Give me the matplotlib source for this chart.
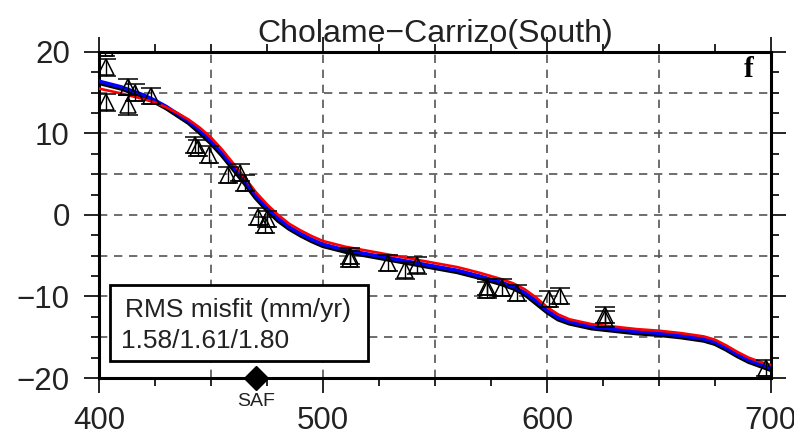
import numpy as np
import matplotlib
matplotlib.use('Agg')
import matplotlib.pyplot as plt
from matplotlib.ticker import MultipleLocator
from matplotlib.patches import Rectangle

plt.rcParams['font.family'] = ['Liberation Sans', 'DejaVu Sans']

# model profiles (distance km, velocity mm/yr)
x_model = [400, 410, 420, 425, 430, 435, 440, 445, 450, 455, 460, 465, 470, 475, 480, 485,
           490, 495, 500, 510, 520, 540, 560, 570, 580, 585, 590, 595, 600, 605, 610, 620,
           630, 640, 650, 660, 670, 675, 680, 685, 690, 695, 700]
v_blue = [16.4, 15.7, 14.7, 14.05, 13.3, 12.4, 11.5, 10.4, 9.1, 7.6, 5.9, 4.2, 2.4, 0.9, -0.4, -1.5,
          -2.3, -3.0, -3.6, -4.3, -4.8, -5.8, -6.8, -7.5, -8.3, -8.8, -9.5, -10.5, -11.7, -12.6, -13.1, -13.7,
          -14.0, -14.3, -14.5, -14.8, -15.2, -15.6, -16.3, -17.1, -17.8, -18.3, -18.8]
v_red = [15.5, 14.9, 14.2, 13.8, 13.2, 12.5, 11.7, 10.7, 9.5, 8.0, 6.3, 4.6, 2.8, 1.3, 0.0, -1.1,
         -1.9, -2.6, -3.2, -3.9, -4.4, -5.4, -6.4, -7.1, -7.9, -8.4, -9.1, -10.1, -11.3, -12.2, -12.8, -13.4,
         -13.7, -14.0, -14.2, -14.5, -14.9, -15.3, -16.0, -16.8, -17.5, -18.0, -18.4]
v_black = [16.2, 15.5, 14.5, 13.85, 13.1, 12.2, 11.3, 10.1, 8.8, 7.3, 5.6, 3.9, 2.1, 0.6, -0.7, -1.7,
           -2.5, -3.2, -3.8, -4.5, -5.0, -6.0, -7.0, -7.7, -8.5, -9.0, -9.7, -10.8, -11.9, -12.8, -13.3, -13.9,
           -14.2, -14.5, -14.7, -15.0, -15.4, -15.8, -16.5, -17.3, -18.0, -18.5, -19.0]

# GPS observations
x_obs = [402.5, 403, 403, 413, 413, 416, 423, 443, 444, 449, 457.5, 463, 465, 471, 475, 474,
         512, 512, 529, 536.5, 542, 573, 573, 580, 586.5, 601, 606, 626, 626, 698]
v_obs = [20.5, 18.1, 13.8, 15.7, 13.5, 15.0, 14.6, 8.6, 8.2, 7.4, 4.9, 5.2, 3.9, -0.2, -0.5, -1.2,
         -5.0, -5.4, -5.9, -6.8, -6.2, -8.8, -9.2, -8.9, -9.6, -10.3, -9.9, -12.3, -12.8, -18.8]
e_obs = [1.0, 1.0, 1.0, 1.0, 1.2, 1.0, 1.0, 1.0, 1.0, 1.0, 1.0, 1.0, 1.0, 1.0, 1.0, 1.0,
         1.0, 1.0, 1.0, 1.0, 1.0, 1.0, 1.0, 1.0, 1.0, 1.0, 1.0, 1.0, 1.0, 1.0]

saf_x = 470
title = 'Cholame\u2212Carrizo(South)'
rms_title = 'RMS misfit (mm/yr)'
rms_vals = '1.58/1.61/1.80'

fig = plt.figure(figsize=(7.94, 4.36), dpi=100)
ax = fig.add_axes([0.1247, 0.133, 0.8463, 0.748])

ax.plot(x_model, v_black, color='black', lw=3.2, zorder=3)
ax.plot(x_model, v_blue, color='blue', lw=2.6, zorder=4)
ax.plot(x_model, v_red, color='red', lw=1.9, zorder=5)

ax.errorbar(x_obs, v_obs, yerr=e_obs, fmt='^', mfc='none', mec='black', ms=12, mew=1.1,
            ecolor='black', elinewidth=1.0, capsize=7.5, capthick=1.0, zorder=6)

ax.set_xlim(400, 700)
ax.set_ylim(-20, 20)
ax.xaxis.set_major_locator(MultipleLocator(100))
ax.xaxis.set_minor_locator(MultipleLocator(25))
ax.yaxis.set_major_locator(MultipleLocator(10))
ax.yaxis.set_minor_locator(MultipleLocator(2.5))

# dashed grid every 50 km / 5 mm/yr
for gx in np.arange(450, 700, 50):
    ax.axvline(gx, color='#555555', lw=1.2, ls=(0, (5, 4)), zorder=1)
for gy in np.arange(-15, 20, 5):
    ax.axhline(gy, color='#555555', lw=1.2, ls=(0, (5, 4)), zorder=1)

ax.tick_params(which='both', direction='out', top=True, right=True, width=1.2, colors='black',
               labelsize=22.5, labelcolor='#222222')
ax.tick_params(which='major', length=11)
ax.tick_params(which='minor', length=6)
ax.tick_params(axis='x', which='major', pad=9)
ax.tick_params(axis='y', which='major', pad=10)
ax.set_yticks([-20, -10, 0, 10, 20])
ax.set_yticklabels(['\u221220', '\u221210', '0', '10', '20'])
for s in ax.spines.values():
    s.set_linewidth(2.2)

ax.plot([saf_x], [-20], marker='D', color='black', ms=12, clip_on=False, zorder=10)
ax.text(saf_x, -22.9, 'SAF', ha='center', va='center', fontsize=14, color='#222222')

ax.add_patch(Rectangle((0.0164, 0.052), 0.384, 0.233, transform=ax.transAxes,
                       fc='white', ec='black', lw=2, zorder=8))
ax.text(0.0387, 0.2086, rms_title, transform=ax.transAxes, ha='left', va='center',
        fontsize=19, color='#222222', zorder=9)
ax.text(0.0327, 0.1135, rms_vals, transform=ax.transAxes, ha='left', va='center',
        fontsize=19, color='#222222', zorder=9)

ax.text(0.974, 0.945, 'f', transform=ax.transAxes, ha='right', va='center', fontsize=21,
        fontweight='bold', family='Liberation Serif', zorder=8)

ax.text(0.5, 1.03, title, transform=ax.transAxes, ha='center', va='baseline',
        fontsize=23, color='#222222')

fig.savefig('out.png', dpi=100)
